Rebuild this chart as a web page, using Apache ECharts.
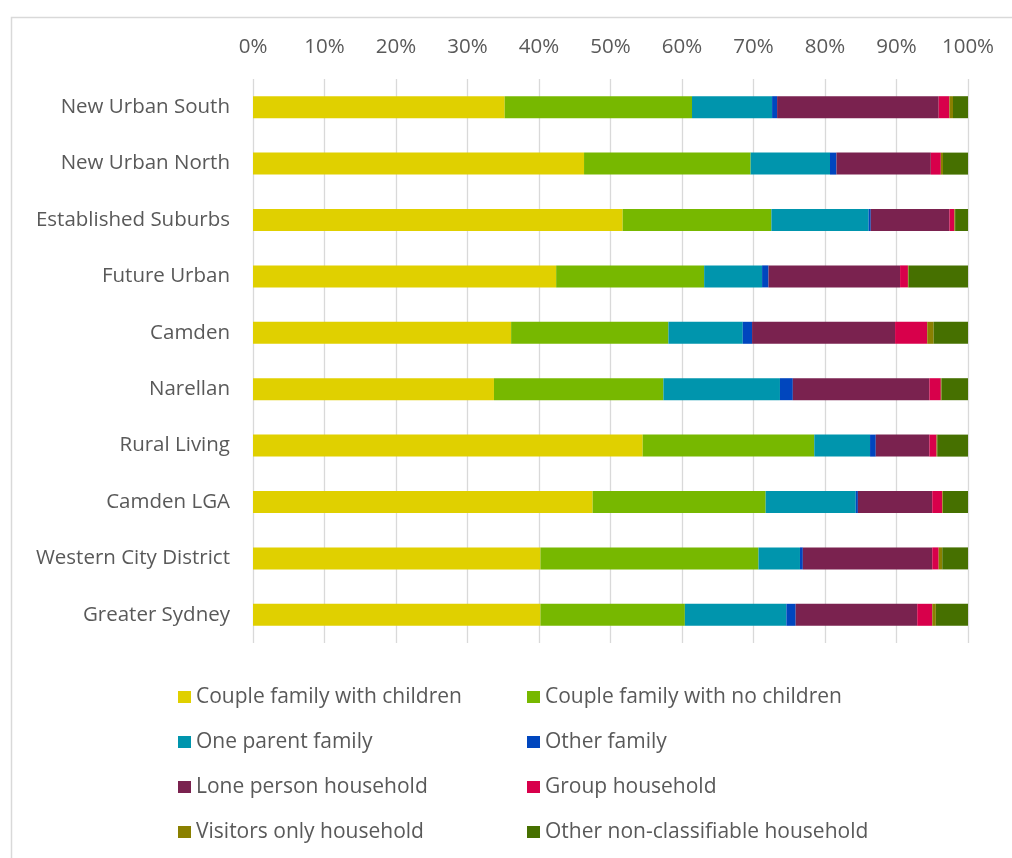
<!DOCTYPE html>
<html>
<head>
<meta charset="utf-8">
<script src="https://cdn.jsdelivr.net/npm/echarts@6/dist/echarts.min.js"></script>
<style>
  html, body { margin: 0; padding: 0; background: #fff; }
  #chart { width: 1012px; height: 858px; }
</style>
</head>
<body>
<div id="chart"></div>
<script>
// Household composition by area (% of households)
const areas = [
  'New Urban South', 'New Urban North', 'Established Suburbs', 'Future Urban',
  'Camden', 'Narellan', 'Rural Living', 'Camden LGA',
  'Western City District', 'Greater Sydney'
];

const coupleWithChildren   = [35.2, 46.3, 51.7, 42.4, 36.1, 33.7, 54.5, 47.5, 40.2, 40.2];
const coupleNoChildren     = [26.2, 23.3, 20.8, 20.7, 22.0, 23.7, 24.0, 24.2, 30.5, 20.2];
const oneParent            = [11.2, 11.1, 13.6,  8.1, 10.4, 16.3,  7.8, 12.6,  5.8, 14.2];
const otherFamily          = [ 0.7,  0.9,  0.3,  0.9,  1.3,  1.8,  0.8,  0.3,  0.4,  1.3];
const lonePerson           = [22.6, 13.2, 11.0, 18.4, 20.0, 19.1,  7.5, 10.4, 18.1, 17.0];
const groupHousehold       = [ 1.5,  1.4,  0.7,  1.1,  4.5,  1.6,  1.0,  1.4,  0.9,  2.1];
const visitorsOnly         = [ 0.5,  0.3,  0.1,  0.1,  0.9,  0.1,  0.1,  0.1,  0.5,  0.5];
const otherNonClassifiable = [ 2.1,  3.5,  1.8,  8.3,  4.8,  3.7,  4.3,  3.5,  3.6,  4.5];

const tickLabels = ['0%', '10%', '20%', '30%', '40%', '50%', '60%', '70%', '80%', '90%', '100%'];

const seriesDefs = [
  { name: 'Couple family with children',     data: coupleWithChildren,   color: '#E0D000' },
  { name: 'Couple family with no children',  data: coupleNoChildren,     color: '#77B800' },
  { name: 'One parent family',               data: oneParent,            color: '#0095AD' },
  { name: 'Other family',                    data: otherFamily,          color: '#0046BE' },
  { name: 'Lone person household',           data: lonePerson,           color: '#7A224F' },
  { name: 'Group household',                 data: groupHousehold,       color: '#D8004B' },
  { name: 'Visitors only household',         data: visitorsOnly,         color: '#8A8000' },
  { name: 'Other non-classifiable household', data: otherNonClassifiable, color: '#467000' }
];

const FONT = 'Open Sans';
const TEXT = '#595959';
const GRIDC = '#d9d9d9';

const chart = echarts.init(document.getElementById('chart'), null, { renderer: 'canvas' });

const legendCommon = {
  orient: 'vertical',
  top: 686,
  padding: 0,
  itemGap: 23,
  itemWidth: 13,
  itemHeight: 12,
  icon: 'rect',
  selectedMode: false,
  textStyle: { color: TEXT, fontFamily: FONT, fontSize: 21, lineHeight: 22 }
};

chart.setOption({
  animation: false,
  backgroundColor: '#fff',
  graphic: [{
    type: 'rect',
    shape: { x: 11.5, y: 17.5, width: 1020, height: 860 },
    style: { fill: 'none', stroke: GRIDC, lineWidth: 1.5 },
    silent: true
  }],
  legend: [
    Object.assign({}, legendCommon, {
      left: 178,
      data: [seriesDefs[0].name, seriesDefs[2].name, seriesDefs[4].name, seriesDefs[6].name]
    }),
    Object.assign({}, legendCommon, {
      left: 527,
      data: [seriesDefs[1].name, seriesDefs[3].name, seriesDefs[5].name, seriesDefs[7].name]
    })
  ],
  grid: { left: 253, right: 44, top: 79, height: 564, containLabel: false },
  xAxis: {
    type: 'value',
    position: 'top',
    min: 0,
    max: 100,
    interval: 10,
    axisLine: { show: false },
    axisTick: { show: false },
    splitLine: { show: true, lineStyle: { color: GRIDC, width: 1.3 } },
    axisLabel: {
      margin: 21,
      color: TEXT,
      fontFamily: FONT,
      fontSize: 20.5,
      formatter: (v) => tickLabels[Math.round(v / 10)]
    }
  },
  yAxis: {
    type: 'category',
    data: areas,
    inverse: true,
    axisLine: { show: false },
    axisTick: { show: false },
    axisLabel: { margin: 23, color: TEXT, fontFamily: FONT, fontSize: 20.5 }
  },
  series: seriesDefs.map(s => ({
    name: s.name,
    type: 'bar',
    stack: 'total',
    barWidth: 22,
    data: s.data,
    itemStyle: { color: s.color },
    emphasis: { disabled: true }
  }))
});
</script>
</body>
</html>
